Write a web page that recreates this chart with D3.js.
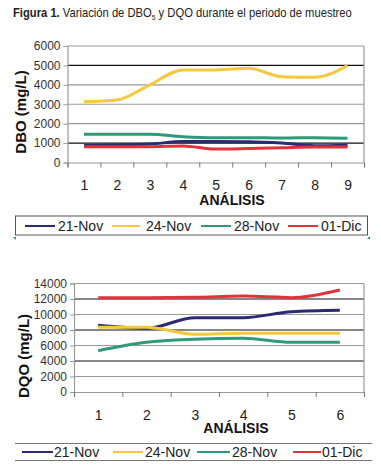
<!DOCTYPE html>
<html><head><meta charset="utf-8">
<script src="https://cdn.jsdelivr.net/npm/d3@7"></script>
<style>html,body{margin:0;padding:0;background:#fff;}svg{display:block;}</style>
</head><body>
<script>
// ---- data ----
const seriesNames = ["21-Nov", "24-Nov", "28-Nov", "01-Dic"];
const seriesColors = ["#2b2a72", "#f7c73e", "#2e9a78", "#e2333b"];
const dboAnalisis = [1, 2, 3, 4, 5, 6, 7, 8, 9];
const dbo21Nov = [870, 900, 950, 1080, 1080, 1070, 1000, 860, 890];
const dbo24Nov = [3130, 3220, 4000, 4770, 4770, 4850, 4420, 4390, 4990];
const dbo28Nov = [1450, 1450, 1450, 1330, 1280, 1280, 1260, 1280, 1250];
const dbo01Dic = [815, 815, 815, 850, 690, 720, 760, 800, 800];
const dboTicks = [0, 1000, 2000, 3000, 4000, 5000, 6000];
const dboDarkGrid = [1000, 5000];
const dqoAnalisis = [1, 2, 3, 4, 5, 6];
const dqo21Nov = [8600, 8210, 9590, 9590, 10360, 10540];
const dqo24Nov = [8350, 8350, 7440, 7570, 7570, 7570];
const dqo28Nov = [5330, 6410, 6800, 6930, 6410, 6410];
const dqo01Dic = [12170, 12170, 12220, 12380, 12170, 13160];
const dqoTicks = [0, 2000, 4000, 6000, 8000, 10000, 12000, 14000];
const dqoDarkGrid = [4000, 8000, 12000];

const W = 381, H = 473;
const svg = d3.select("body").append("svg").attr("width", W).attr("height", H);

// title (condensed to fit like a narrow font)
const tg = svg.append("g");
const title = tg.append("text").attr("x", 0).attr("y", 17)
  .attr("font-family", "'Liberation Sans Narrow','Arial Narrow','Liberation Sans',sans-serif")
  .attr("font-size", 13.5).attr("fill", "#222");
title.append("tspan").attr("font-weight", "bold").text("Figura 1.");
title.append("tspan").text(" Variación de DBO");
title.append("tspan").attr("font-size", 8).attr("dy", 3).text("5");
title.append("tspan").attr("dy", -3).text(" y DQO durante el periodo de muestreo");
const tw = title.node().getComputedTextLength();
tg.attr("transform", `translate(13,0) scale(${339 / tw},1)`);

function chart(cfg) {
  const g = svg.append("g");
  const n = cfg.cats.length;
  const x = d3.scaleLinear().domain([0.5, n + 0.5]).range([cfg.x0, cfg.x1]);
  const y = d3.scaleLinear().domain([0, d3.max(cfg.ticks)]).range([cfg.y0, cfg.y1]);
  // grid
  g.selectAll("line.grid").data(cfg.ticks.slice(1)).join("line")
    .attr("x1", cfg.x0).attr("x2", cfg.x1)
    .attr("y1", d => y(d)).attr("y2", d => y(d))
    .attr("stroke", d => cfg.dark.includes(d) ? "#111" : "#9a9a9a")
    .attr("stroke-width", 1.2);
  // right border
  g.append("line").attr("x1", cfg.x1).attr("x2", cfg.x1).attr("y1", cfg.y1).attr("y2", cfg.y0)
    .attr("stroke", "#9a9a9a").attr("stroke-width", 1.2);
  // y axis
  const ya = g.append("g").attr("transform", `translate(${cfg.x0},0)`)
    .call(d3.axisLeft(y).tickValues(cfg.ticks).tickSize(4).tickPadding(3).tickFormat(d3.format("d")));
  ya.select(".domain").attr("stroke", "#9a9a9a").attr("stroke-width", 1.2);
  ya.selectAll(".tick line").attr("stroke", "#9a9a9a");
  ya.selectAll("text").attr("font-family", "Liberation Sans, Arial, sans-serif")
    .attr("font-size", 12).attr("fill", "#333");
  // x axis ticks at boundaries
  const bounds = d3.range(0, n + 1).map(i => i + 0.5);
  const xa = g.append("g").attr("transform", `translate(0,${cfg.y0})`)
    .call(d3.axisBottom(x).tickValues(bounds).tickSize(5).tickFormat(""));
  xa.select(".domain").attr("stroke", "#9a9a9a").attr("stroke-width", 1.2);
  xa.selectAll(".tick line").attr("stroke", "#777");
  const xl = g.append("g").attr("transform", `translate(0,${cfg.y0})`)
    .call(d3.axisBottom(x).tickValues(cfg.cats).tickSize(0).tickPadding(cfg.labPad).tickFormat(d3.format("d")));
  xl.select(".domain").remove();
  xl.selectAll("text").attr("font-family", "Liberation Sans, Arial, sans-serif")
    .attr("font-size", 14).attr("fill", "#222");
  // axis titles
  g.append("text").attr("x", cfg.xtX).attr("y", cfg.xtY).attr("text-anchor", "middle")
    .attr("font-family", "Liberation Sans, Arial, sans-serif").attr("font-weight", "bold")
    .attr("font-size", 14).attr("fill", "#111").text("ANÁLISIS");
  g.append("text").attr("transform", `translate(${cfg.ytX},${cfg.ytY}) rotate(-90)`)
    .attr("text-anchor", "middle").attr("dominant-baseline", "central")
    .attr("font-family", "Liberation Sans, Arial, sans-serif").attr("font-weight", "bold")
    .attr("font-size", 15).attr("fill", "#111").text(cfg.ylab);
  // lines
  const line = d3.line().x((d, i) => x(cfg.cats[i])).y(d => y(d)).curve(d3.curveMonotoneX);
  cfg.series.forEach((s, k) => {
    g.append("path").attr("d", line(s)).attr("fill", "none")
      .attr("stroke", seriesColors[k]).attr("stroke-width", 3).attr("stroke-linejoin", "round");
  });
  // legend
  const lg = svg.append("g");
  if (cfg.legBox) {
    lg.append("rect").attr("x", cfg.leg.x0).attr("y", cfg.leg.y0)
      .attr("width", cfg.leg.x1 - cfg.leg.x0).attr("height", cfg.leg.y1 - cfg.leg.y0)
      .attr("fill", "#fff").attr("stroke", "#555").attr("stroke-width", 1);
  } else {
    [cfg.leg.y0, cfg.leg.y1].forEach(yy => lg.append("line").attr("x1", cfg.leg.x0).attr("x2", cfg.leg.x1)
      .attr("y1", yy).attr("y2", yy).attr("stroke", "#777").attr("stroke-width", 1));
  }
  seriesNames.forEach((nm, k) => {
    const it = cfg.leg.items[k];
    lg.append("line").attr("x1", it[0]).attr("x2", it[1]).attr("y1", cfg.leg.ym).attr("y2", cfg.leg.ym)
      .attr("stroke", seriesColors[k]).attr("stroke-width", 2);
    lg.append("text").attr("x", it[2]).attr("y", cfg.leg.ym).attr("dominant-baseline", "central")
      .attr("font-family", "Liberation Sans, Arial, sans-serif").attr("font-size", 14)
      .attr("fill", "#222").text(nm);
  });
}

chart({
  cats: dboAnalisis, ticks: dboTicks, dark: dboDarkGrid,
  series: [dbo21Nov, dbo24Nov, dbo28Nov, dbo01Dic],
  x0: 67.5, x1: 364, y0: 162.5, y1: 46, labPad: 18,
  xtX: 232, xtY: 205, ytX: 20, ytY: 112, ylab: "DBO (mg/L)",
  legBox: true,
  leg: { x0: 15.5, x1: 367.5, y0: 216, y1: 235, ym: 226,
    items: [[25, 55, 58], [112, 140, 146], [201, 231, 234], [288, 318, 321]] }
});
chart({
  cats: dqoAnalisis, ticks: dqoTicks, dark: dqoDarkGrid,
  series: [dqo21Nov, dqo24Nov, dqo28Nov, dqo01Dic],
  x0: 74, x1: 364, y0: 392, y1: 283.5, labPad: 18,
  xtX: 236, xtY: 433, ytX: 23, ytY: 356, ylab: "DQO (mg/L)",
  legBox: false,
  leg: { x0: 15, x1: 372, y0: 443.5, y1: 460.5, ym: 452,
    items: [[22, 53, 54], [113, 143, 145], [197, 230, 232], [293, 321, 322]] }
});
// small teal corner marks by top legend
svg.append("path").attr("d", "M13,237 l3,0 l0,3 z").attr("fill", "#2e8a9a");
svg.append("path").attr("d", "M370,236 l-3,3 l3,0 z").attr("fill", "#2e8a9a");
</script>
</body></html>
